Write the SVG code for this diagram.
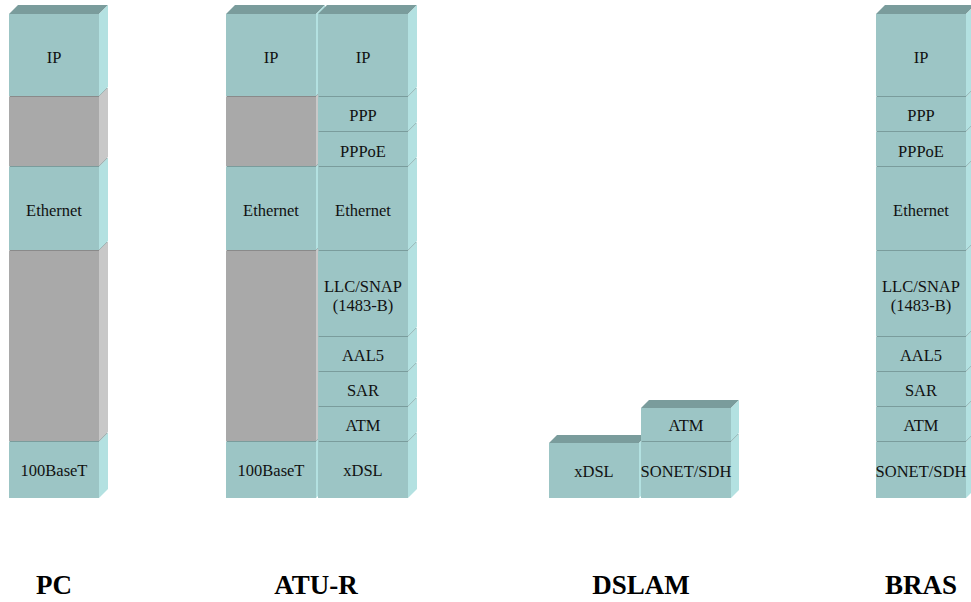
<svg xmlns="http://www.w3.org/2000/svg" width="971" height="602" viewBox="0 0 971 602">
<style>
.f{fill:#9CC5C5}.t{fill:#7A9C9C}.s{fill:#B3E1E1}
.gf{fill:#A9A9A9}.gt{fill:#8A8A8A}.gs{fill:#C8C8C8}
.l{font-family:"Liberation Serif","Times New Roman",serif;font-size:16.5px;fill:#111;text-anchor:middle}
.h{font-family:"Liberation Serif","Times New Roman",serif;font-size:27px;font-weight:bold;fill:#000;text-anchor:middle}
</style>
<rect width="971" height="602" fill="#fff"/>

<!-- PC -->
<g id="pc">
<g id="pc-100baset"><polygon class="t" points="9,442 18,433 108,433 99,442"/><polygon class="s" points="99,442 108,433 108,489 99,498"/><rect class="f" x="9" y="442" width="90" height="56"/><text class="l" x="54" y="476">100BaseT</text></g>
<g id="pc-gray2"><polygon class="gt" points="9,251 18,242 108,242 99,251"/><polygon class="gs" points="99,251 108,242 108,432 99,441"/><rect class="gf" x="9" y="251" width="90" height="190"/></g>
<g id="pc-ethernet"><polygon class="t" points="9,167 18,158 108,158 99,167"/><polygon class="s" points="99,167 108,158 108,241 99,250"/><rect class="f" x="9" y="167" width="90" height="83"/><text class="l" x="54" y="216">Ethernet</text></g>
<g id="pc-gray1"><polygon class="gt" points="9,97 18,88 108,88 99,97"/><polygon class="gs" points="99,97 108,88 108,157 99,166"/><rect class="gf" x="9" y="97" width="90" height="69"/></g>
<g id="pc-ip"><polygon class="t" points="9,14 18,5 108,5 99,14"/><polygon class="s" points="99,14 108,5 108,87 99,96"/><rect class="f" x="9" y="14" width="90" height="82"/><text class="l" x="54" y="63">IP</text></g>
</g>

<!-- ATU-R left -->
<g id="atur-left">
<g id="atur-100baset"><polygon class="t" points="226,442 235,433 325,433 316,442"/><polygon class="s" points="316,442 325,433 325,489 316,498"/><rect class="f" x="226" y="442" width="90" height="56"/><text class="l" x="271" y="476">100BaseT</text></g>
<g id="atur-gray2"><polygon class="gt" points="226,251 235,242 325,242 316,251"/><polygon class="gs" points="316,251 325,242 325,432 316,441"/><rect class="gf" x="226" y="251" width="90" height="190"/></g>
<g id="atur-ethernet-l"><polygon class="t" points="226,167 235,158 325,158 316,167"/><polygon class="s" points="316,167 325,158 325,241 316,250"/><rect class="f" x="226" y="167" width="90" height="83"/><text class="l" x="271" y="216">Ethernet</text></g>
<g id="atur-gray1"><polygon class="gt" points="226,97 235,88 325,88 316,97"/><polygon class="gs" points="316,97 325,88 325,157 316,166"/><rect class="gf" x="226" y="97" width="90" height="69"/></g>
<g id="atur-ip-l"><polygon class="t" points="226,14 235,5 325,5 316,14"/><polygon class="s" points="316,14 325,5 325,87 316,96"/><rect class="f" x="226" y="14" width="90" height="82"/><text class="l" x="271" y="63">IP</text></g>
</g>

<!-- ATU-R right -->
<g id="atur-right">
<g id="atur-xdsl"><polygon class="t" points="318,442 327,433 417,433 408,442"/><polygon class="s" points="408,442 417,433 417,489 408,498"/><rect class="f" x="318" y="442" width="90" height="56"/><text class="l" x="363" y="476">xDSL</text></g>
<g id="atur-atm"><polygon class="t" points="318,407 327,398 417,398 408,407"/><polygon class="s" points="408,407 417,398 417,432 408,441"/><rect class="f" x="318" y="407" width="90" height="34"/><text class="l" x="363" y="431">ATM</text></g>
<g id="atur-sar"><polygon class="t" points="318,372 327,363 417,363 408,372"/><polygon class="s" points="408,372 417,363 417,397 408,406"/><rect class="f" x="318" y="372" width="90" height="34"/><text class="l" x="363" y="396">SAR</text></g>
<g id="atur-aal5"><polygon class="t" points="318,337 327,328 417,328 408,337"/><polygon class="s" points="408,337 417,328 417,362 408,371"/><rect class="f" x="318" y="337" width="90" height="34"/><text class="l" x="363" y="361">AAL5</text></g>
<g id="atur-llc"><polygon class="t" points="318,251 327,242 417,242 408,251"/><polygon class="s" points="408,251 417,242 417,327 408,336"/><rect class="f" x="318" y="251" width="90" height="85"/><text class="l" x="363" y="291.5">LLC/SNAP</text><text class="l" x="363" y="310.5">(1483-B)</text></g>
<g id="atur-ethernet-r"><polygon class="t" points="318,167 327,158 417,158 408,167"/><polygon class="s" points="408,167 417,158 417,241 408,250"/><rect class="f" x="318" y="167" width="90" height="83"/><text class="l" x="363" y="216">Ethernet</text></g>
<g id="atur-pppoe"><polygon class="t" points="318,132 327,123 417,123 408,132"/><polygon class="s" points="408,132 417,123 417,157 408,166"/><rect class="f" x="318" y="132" width="90" height="34"/><text class="l" x="363" y="156.5">PPPoE</text></g>
<g id="atur-ppp"><polygon class="t" points="318,97 327,88 417,88 408,97"/><polygon class="s" points="408,97 417,88 417,122 408,131"/><rect class="f" x="318" y="97" width="90" height="34"/><text class="l" x="363" y="121">PPP</text></g>
<g id="atur-ip-r"><polygon class="t" points="318,14 327,5 417,5 408,14"/><polygon class="s" points="408,14 417,5 417,87 408,96"/><rect class="f" x="318" y="14" width="90" height="82"/><text class="l" x="363" y="63">IP</text></g>
</g>

<!-- DSLAM -->
<g id="dslam">
<g id="dslam-xdsl"><polygon class="t" points="549,443 557,435 647,435 639,443"/><polygon class="s" points="639,443 647,435 647,490 639,498"/><rect class="f" x="549" y="443" width="90" height="55"/><text class="l" x="594" y="477">xDSL</text></g>
<g id="dslam-sonet"><polygon class="t" points="641,442 649,434 739,434 731,442"/><polygon class="s" points="731,442 739,434 739,490 731,498"/><rect class="f" x="641" y="442" width="90" height="56"/><text class="l" x="686" y="477">SONET/SDH</text></g>
<g id="dslam-atm"><polygon class="t" points="641,408 649,400 739,400 731,408"/><polygon class="s" points="731,408 739,400 739,433 731,441"/><rect class="f" x="641" y="408" width="90" height="33"/><text class="l" x="686" y="431">ATM</text></g>
</g>

<!-- BRAS -->
<g id="bras">
<g id="bras-sonet"><polygon class="t" points="876,442 885,433 975,433 966,442"/><polygon class="s" points="966,442 975,433 975,489 966,498"/><rect class="f" x="876" y="442" width="90" height="56"/><text class="l" x="921" y="477">SONET/SDH</text></g>
<g id="bras-atm"><polygon class="t" points="876,407 885,398 975,398 966,407"/><polygon class="s" points="966,407 975,398 975,432 966,441"/><rect class="f" x="876" y="407" width="90" height="34"/><text class="l" x="921" y="431">ATM</text></g>
<g id="bras-sar"><polygon class="t" points="876,372 885,363 975,363 966,372"/><polygon class="s" points="966,372 975,363 975,397 966,406"/><rect class="f" x="876" y="372" width="90" height="34"/><text class="l" x="921" y="396">SAR</text></g>
<g id="bras-aal5"><polygon class="t" points="876,337 885,328 975,328 966,337"/><polygon class="s" points="966,337 975,328 975,362 966,371"/><rect class="f" x="876" y="337" width="90" height="34"/><text class="l" x="921" y="361">AAL5</text></g>
<g id="bras-llc"><polygon class="t" points="876,251 885,242 975,242 966,251"/><polygon class="s" points="966,251 975,242 975,327 966,336"/><rect class="f" x="876" y="251" width="90" height="85"/><text class="l" x="921" y="291.5">LLC/SNAP</text><text class="l" x="921" y="310.5">(1483-B)</text></g>
<g id="bras-ethernet"><polygon class="t" points="876,167 885,158 975,158 966,167"/><polygon class="s" points="966,167 975,158 975,241 966,250"/><rect class="f" x="876" y="167" width="90" height="83"/><text class="l" x="921" y="216">Ethernet</text></g>
<g id="bras-pppoe"><polygon class="t" points="876,132 885,123 975,123 966,132"/><polygon class="s" points="966,132 975,123 975,157 966,166"/><rect class="f" x="876" y="132" width="90" height="34"/><text class="l" x="921" y="156.5">PPPoE</text></g>
<g id="bras-ppp"><polygon class="t" points="876,97 885,88 975,88 966,97"/><polygon class="s" points="966,97 975,88 975,122 966,131"/><rect class="f" x="876" y="97" width="90" height="34"/><text class="l" x="921" y="121">PPP</text></g>
<g id="bras-ip"><polygon class="t" points="876,14 885,5 975,5 966,14"/><polygon class="s" points="966,14 975,5 975,87 966,96"/><rect class="f" x="876" y="14" width="90" height="82"/><text class="l" x="921" y="63">IP</text></g>
</g>

<g id="connectors"/>

<g id="labels">
<text class="h" x="54" y="594">PC</text>
<text class="h" x="316" y="594">ATU-R</text>
<text class="h" x="641" y="594">DSLAM</text>
<text class="h" x="921" y="594">BRAS</text>
</g>
</svg>
